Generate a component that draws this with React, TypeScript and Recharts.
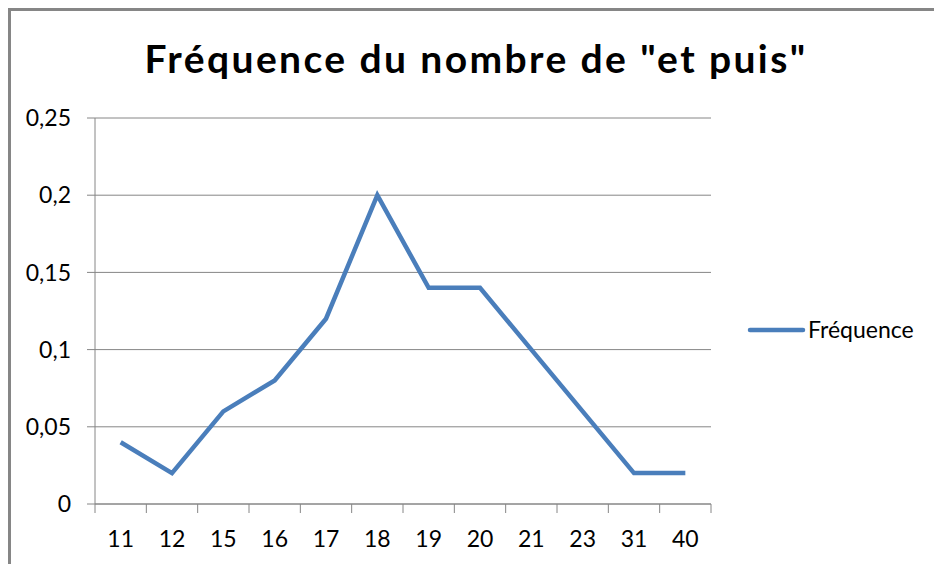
import React from "react";
import { LineChart, Line, XAxis, YAxis, CartesianGrid, Legend } from "recharts";

const categories = ["11", "12", "15", "16", "17", "18", "19", "20", "21", "23", "31", "40"];
const frequences = [0.04, 0.02, 0.06, 0.08, 0.12, 0.2, 0.14, 0.14, 0.1, 0.06, 0.02, 0.02];
const yTicks = [0, 0.05, 0.1, 0.15, 0.2, 0.25];
const boundaryTicks = [0, 1, 2, 3, 4, 5, 6, 7, 8, 9, 10, 11, 12];
const title = 'Fréquence du nombre de "et puis"';
const seriesName = "Fréquence";

// pos = category slot index (centre of each slot on a 0..n scale)
const data = categories.map((c, i) => ({ cat: c, pos: i + 0.5, freq: frequences[i] }));

const FONT = "Lato, 'Open Sans', sans-serif";
const GRAY = "#868686";
const BLUE = "#4A7EBB";

const fmt = (v: number) => String(v).replace(".", ",");
const blank = () => "";

const LegendContent = () => (
  <svg width={185} height={30}>
    <line x1={5} y1={15} x2={58} y2={15} stroke={BLUE} strokeWidth={4.5} strokeLinecap="round" />
    <text x={63} y={23} fontFamily={FONT} fontSize={23} fill="#000">
      {seriesName}
    </text>
  </svg>
);

export default function App() {
  return (
    <div style={{ position: "absolute", left: 0, top: 0, width: 934, height: 564, background: "#fff" }}>
      <div
        style={{
          position: "absolute",
          left: 8,
          top: 8,
          right: 0,
          bottom: 0,
          borderLeft: `3px solid ${GRAY}`,
          borderTop: `3px solid ${GRAY}`,
        }}
      />
      <svg style={{ position: "absolute", left: 0, top: 0 }} width={934} height={100}>
        <text
          x={476}
          y={73}
          textAnchor="middle"
          fontFamily={FONT}
          fontWeight={700}
          fontSize={39}
          letterSpacing={2.4}
          fill="#000"
        >
          {title}
        </text>
      </svg>
      <div style={{ position: "absolute", left: 0, top: 0 }}>
        <LineChart width={934} height={564} data={data} margin={{ top: 118, right: 223, bottom: 0, left: 0 }}>
          <CartesianGrid horizontal vertical={false} stroke={GRAY} strokeWidth={1} xAxisId="b" />
          <XAxis
            xAxisId="a"
            type="number"
            dataKey="pos"
            domain={[0, categories.length]}
            ticks={boundaryTicks}
            tickFormatter={blank}
            tickSize={9}
            axisLine={{ stroke: GRAY }}
            tickLine={{ stroke: GRAY }}
            height={1}
            interval={0}
            allowDataOverflow
          />
          <XAxis
            xAxisId="b"
            dataKey="cat"
            scale="band"
            height={59}
            axisLine={false}
            tickLine={false}
            tickSize={0}
            tickMargin={26}
            interval={0}
            tick={{ fontFamily: FONT, fontSize: 23, fill: "#000" }}
          />
          <YAxis
            domain={[0, 0.25]}
            ticks={yTicks}
            width={95}
            tickFormatter={fmt}
            axisLine={{ stroke: GRAY }}
            tickLine={{ stroke: GRAY }}
            tickSize={8}
            tickMargin={16}
            tick={{ fontFamily: FONT, fontSize: 23, fill: "#000" }}
          />
          <Line
            xAxisId="b"
            type="linear"
            dataKey="freq"
            name={seriesName}
            stroke={BLUE}
            strokeWidth={4.5}
            dot={false}
            activeDot={false}
            isAnimationActive={false}
          />
          <Legend
            layout="horizontal"
            align="center"
            verticalAlign="middle"
            content={<LegendContent />}
            wrapperStyle={{ left: 745, top: 315, width: 185, height: 30 }}
          />
        </LineChart>
      </div>
    </div>
  );
}
